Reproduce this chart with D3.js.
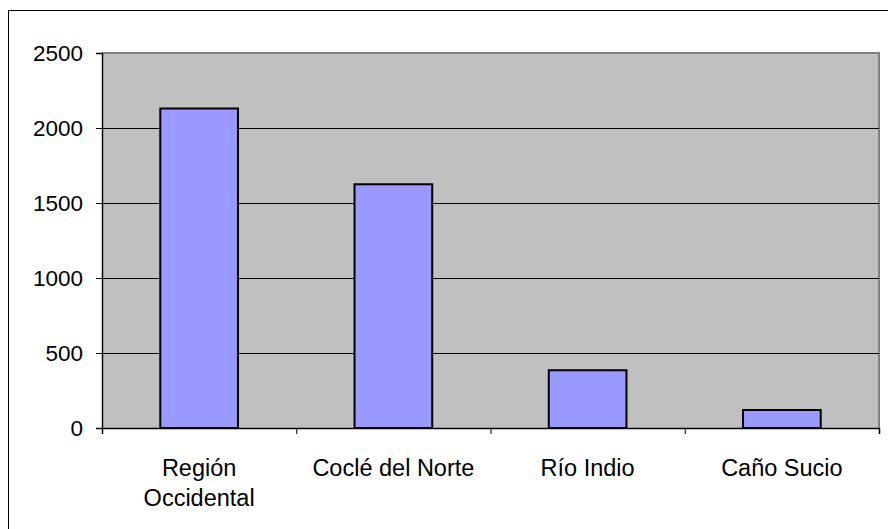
<!DOCTYPE html>
<html><head><meta charset="utf-8">
<script src="https://cdn.jsdelivr.net/npm/d3@7"></script>
<style>body{margin:0;background:#fff}svg{display:block}text{font-family:"Liberation Sans",Arial,sans-serif;fill:#000}</style>
</head><body><svg id="c" width="888" height="529"></svg>
<script>
const categories = [["Región","Occidental"],["Coclé del Norte"],["Río Indio"],["Caño Sucio"]];
const values = [2130, 1625, 385, 120];
const yTicks = [0, 500, 1000, 1500, 2000, 2500];

const svg = d3.select("#c");
const m = {left:102, top:53, right:879, bottom:428};
const x = d3.scaleBand().domain(d3.range(categories.length)).range([m.left, m.right]).paddingInner(0).paddingOuter(0);
const y = d3.scaleLinear().domain([0, 2500]).range([m.bottom, m.top]);

// outer frame
svg.append("rect").attr("x",8.5).attr("y",10.5).attr("width",900).attr("height",600)
  .attr("fill","none").attr("stroke","#000").attr("stroke-width",1);

// plot area
svg.append("rect").attr("x",m.left).attr("y",m.top).attr("width",m.right-m.left).attr("height",m.bottom-m.top)
  .attr("fill","#C0C0C0");
svg.append("path").attr("d",`M${m.left},${m.top}H${m.right}V${m.bottom}`)
  .attr("fill","none").attr("stroke","#808080").attr("stroke-width",2);

// gridlines
svg.append("g").selectAll("line").data(yTicks.filter(t=>t>0&&t<2500)).join("line")
  .attr("x1",m.left).attr("x2",m.right)
  .attr("y1",d=>Math.round(y(d))+0.5).attr("y2",d=>Math.round(y(d))+0.5)
  .attr("stroke","#000").attr("stroke-width",1);

// bars
const bw = x.bandwidth()*0.4;
svg.append("g").selectAll("rect").data(values).join("rect")
  .attr("x",(d,i)=>x(i)+(x.bandwidth()-bw)/2)
  .attr("y",d=>y(d))
  .attr("width",bw)
  .attr("height",d=>y(0)-y(d))
  .attr("fill","#9999FF").attr("stroke","#000").attr("stroke-width",2);

// y axis
const yAxis = d3.axisLeft(y).tickValues(yTicks).tickSize(6).tickPadding(13).tickFormat(d3.format("d"));
const gy = svg.append("g").attr("transform",`translate(${m.left},0)`).call(yAxis);
gy.select(".domain").attr("stroke","#000").attr("stroke-width",1.5);
gy.selectAll(".tick line").attr("stroke","#000");
gy.selectAll(".tick text").style("font-size","22.5px").attr("font-family",null).attr("dy","0.35em");

// x axis
const xb = d3.scaleLinear().domain([0,categories.length]).range([m.left,m.right]);
const xAxis = d3.axisBottom(xb).tickValues(d3.range(categories.length+1)).tickSize(6).tickFormat("");
const gx = svg.append("g").attr("transform",`translate(0,${m.bottom})`).call(xAxis);
gx.select(".domain").attr("stroke","#000").attr("stroke-width",1.5);
gx.selectAll(".tick line").attr("stroke","#000");

// category labels
const lab = svg.append("g");
categories.forEach((lines,i)=>{
  const t = lab.append("text").attr("x",x(i)+x.bandwidth()/2).attr("y",476)
    .attr("text-anchor","middle").style("font-size","23.5px");
  lines.forEach((l,j)=>t.append("tspan").attr("x",x(i)+x.bandwidth()/2).attr("dy",j===0?0:30).text(l));
});
</script></body></html>
